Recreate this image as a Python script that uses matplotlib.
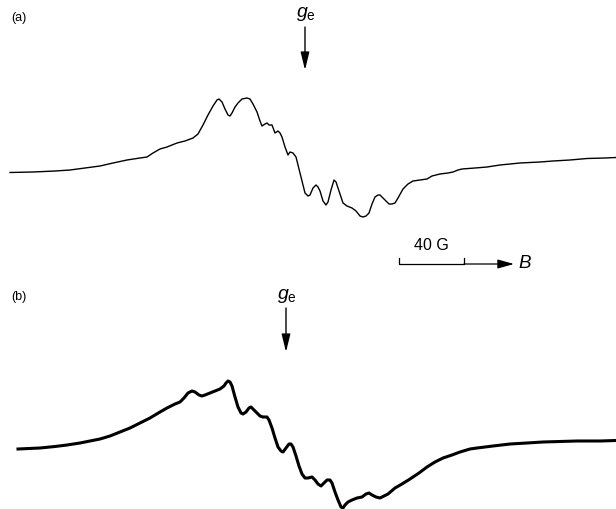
import matplotlib
matplotlib.use("Agg")
import matplotlib.pyplot as plt
import numpy as np

plt.rcParams['font.family'] = ['Liberation Sans', 'DejaVu Sans']
plt.rcParams['mathtext.fontset'] = 'custom'
plt.rcParams['mathtext.rm'] = 'Liberation Sans'
plt.rcParams['mathtext.it'] = 'Liberation Sans:italic'

# Spectrum (a): traced (x, y) in image pixel units
a_x = [10, 33, 55, 70, 85, 100, 113, 127, 140, 147, 153, 160, 167, 177, 185, 193, 198, 203, 208, 213,
       217, 219, 222, 225, 228, 230, 232, 235, 238, 242, 247, 250, 253, 257, 260, 262, 265, 267, 269, 272,
       275, 278, 280, 282, 285, 288, 290, 293, 296, 298, 300, 303, 305, 308, 310, 313, 316, 318, 320, 323,
       326, 328, 331, 334, 336, 338, 341, 343, 347, 352, 356, 360, 363, 366, 369, 372, 375, 378, 380, 383,
       386, 389, 392, 395, 398, 403, 408, 413, 420, 427, 432, 440, 448, 453, 458, 462, 475, 487, 500, 520,
       540, 553, 570, 587, 605, 616]
a_y = [172.5, 172, 171, 170, 168, 166, 163, 160, 158, 157, 153, 149, 147, 143, 141, 138, 134, 125, 115, 106,
       100, 99, 102, 109, 115, 116, 113, 107, 103, 99, 98, 99, 104, 112, 121, 126, 124, 123, 125, 125,
       133, 131, 133, 137, 147, 155, 152, 153, 157, 165, 173, 185, 193, 196, 195, 188, 185, 187, 191, 201,
       205, 202, 190, 180, 182, 188, 197, 203, 206, 208, 211, 216, 217, 216, 213, 204, 197, 195, 195, 198,
       201, 204, 204, 203, 198, 189, 184, 181, 180, 179, 176, 174, 173, 172, 170, 169, 168, 167, 165, 163,
       162, 161, 160, 158.5, 158, 157.5]

# Spectrum (b): traced (x, y) in image pixel units
b_x = [18, 40, 55, 67, 80, 90, 100, 110, 120, 130, 140, 150, 160, 167, 175, 180, 184, 188, 192, 195,
       199, 202, 205, 210, 215, 220, 224, 226, 228, 230, 232, 235, 238, 241, 243, 246, 249, 251, 254, 257,
       260, 263, 267, 269, 272, 275, 278, 281, 283, 286, 289, 291, 293, 296, 299, 302, 305, 308, 312, 315,
       318, 321, 324, 327, 330, 332, 335, 338, 341, 343, 345, 348, 352, 357, 362, 366, 369, 372, 376, 380,
       384, 388, 395, 402, 410, 419, 427, 435, 443, 452, 460, 470, 477, 485, 493, 510, 527, 543, 560, 577,
       600, 616]
b_y = [449, 448, 446.5, 445, 443, 441, 439, 436, 432, 428, 423, 418, 412, 408, 404, 402, 398, 393, 391, 392,
       395, 396, 395, 393, 391, 389, 386, 383, 381, 382, 386, 397, 407, 413, 414, 412, 408, 407, 410, 413,
       416, 417, 417, 420, 428, 438, 447, 451, 452, 448, 444, 444, 447, 456, 466, 474, 478, 478, 477, 480,
       484, 486, 483, 480, 480, 483, 492, 500, 507, 508, 505, 502, 500, 498, 497, 494, 493, 495, 497, 498,
       496, 494, 488, 484, 479, 473, 467, 462, 458, 455, 452, 449, 448, 447, 446, 444, 443, 442, 441.5, 441,
       441, 440.5]

W, H = 616, 509
fig = plt.figure(figsize=(W / 100, H / 100), dpi=100)
ax = fig.add_axes([0, 0, 1, 1])
ax.set_xlim(0, W)
ax.set_ylim(H, 0)
ax.axis('off')

ax.plot(a_x, a_y, color='black', lw=1.0, solid_joinstyle='round')
ax.plot(b_x, b_y, color='black', lw=2.2, solid_joinstyle='round')

# labels
ax.text(11, 18, '(a)', fontsize=9, ha='left', va='center')
ax.text(11, 297, '(b)', fontsize=9, ha='left', va='center')
ax.text(306, 14, r'$g_{\rm e}$', fontsize=14, ha='center', va='center')
ax.text(287, 296, r'$g_{\rm e}$', fontsize=14, ha='center', va='center')

arrow_style = dict(arrowstyle='-|>,head_length=0.9,head_width=0.22', color='black', lw=1.0,
                   shrinkA=0, shrinkB=0, mutation_scale=12)
ax.annotate('', xy=(305, 70), xytext=(305, 27), arrowprops=arrow_style)
ax.annotate('', xy=(286, 352), xytext=(286, 308), arrowprops=arrow_style)

# scale bar
ax.plot([399, 399, 464, 464], [258, 264, 264, 258], color='black', lw=0.9)
ax.annotate('', xy=(514, 264), xytext=(464, 264),
            arrowprops=dict(arrowstyle='-|>,head_length=0.9,head_width=0.25', color='black', lw=0.9,
                            shrinkA=0, shrinkB=0, mutation_scale=11))
ax.text(431, 245, '40 G', fontsize=11.5, ha='center', va='center')
ax.text(518, 264, r'$B$', fontsize=13.5, ha='left', va='center')

fig.savefig('out.png', dpi=100)
